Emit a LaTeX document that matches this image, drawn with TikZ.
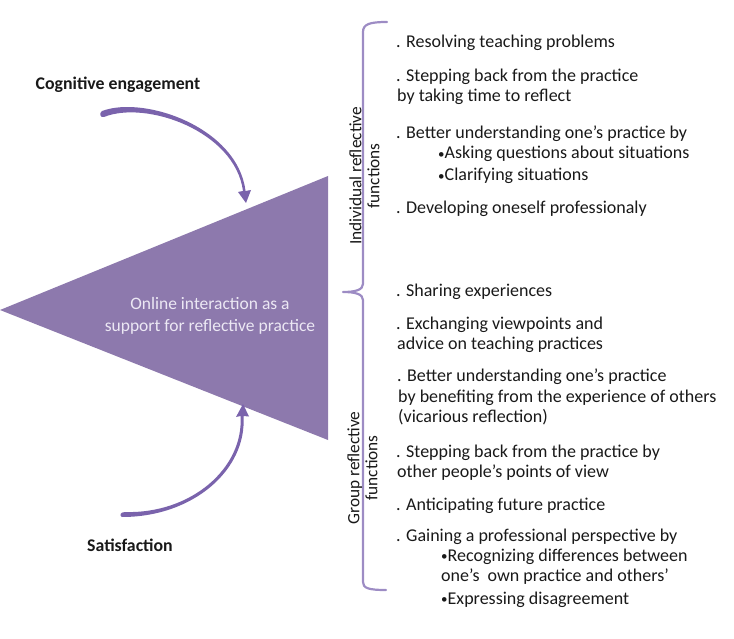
\documentclass[tikz,border=0pt]{standalone}
\usepackage{fontspec}
\setmainfont{Carlito}
\definecolor{tri}{RGB}{141,121,173}
\definecolor{arr}{RGB}{122,99,172}
\definecolor{brc}{RGB}{157,140,196}
\definecolor{textc}{RGB}{25,25,25}
\definecolor{trit}{RGB}{236,232,244}
\newcommand{\bul}{{\fontsize{13}{13}\selectfont\raisebox{0.5pt}{•}}}
\begin{document}
\begin{tikzpicture}[x=1pt,y=-1pt,
  txt/.style={anchor=base west, inner sep=0pt, font=\fontsize{18}{20}\selectfont, text=textc},
  side/.style={rotate=90, align=center, inner sep=0pt, font=\fontsize{17.3}{18}\selectfont, text=textc},
  lbl/.style={inner sep=0pt, font=\bfseries\fontsize{17.8}{20}\selectfont, text=textc},
  bracel/.style={draw=brc, line width=2.2pt, line cap=round, line join=round},
  arrowfill/.style={fill=arr}]
\useasboundingbox (0,0) rectangle (734,639);

% triangle
\fill[tri] (0,310) -- (328,176) -- (328,440) -- cycle;
\node[align=center, inner sep=0pt, font=\fontsize{17.5}{22}\selectfont, text=trit] (core) at (210,316)
  {Online interaction as a\\support for reflective practice};

% side labels
\node[lbl] (cog) at (118,85) {Cognitive engagement};
\node[lbl] (sat) at (130,545) {Satisfaction};

% curved arrows
\fill[arrowfill] (102,111) .. controls (145,95) and (238,128) .. (245.5,191)
  -- (251,190) -- (246,203) -- (238,192) -- (243,191)
  .. controls (235,131) and (146,100) .. (104,117)
  .. controls (100,118) and (99,113) .. (102,111) -- cycle;
\fill[arrowfill] (122,517) .. controls (193,517) and (247,470) .. (243.5,416)
  -- (249,416.5) -- (243,404) -- (236,417) -- (240.5,416)
  .. controls (244,468) and (191,514) .. (125,512)
  .. controls (120,512) and (119,516) .. (122,517) -- cycle;

% brace
\draw[bracel] (387,22) .. controls (370,22) and (363,24) .. (363,32) -- (363,284)
  .. controls (363,290) and (355,292) .. (343,292)
  .. controls (355,292) and (363,294) .. (363,300) -- (363,582)
  .. controls (363,588) and (368,590) .. (386,590);

\node[side] (ind) at (364.5,176) {Individual reflective\\functions};
\node[side] (grp) at (362.5,468) {Group reflective\\functions};

% individual functions
\node[txt] (i1) at (396,48) {. Resolving teaching problems};
\node[txt] (i2) at (396,82) {. Stepping back from the practice};
\node[txt] (i3) at (397,102) {by taking time to reflect};
\node[txt] (i4) at (396,139) {. Better understanding one’s practice by};
\node[txt] (i5) at (438,159) {\bul Asking questions about situations};
\node[txt] (i6) at (438,181) {\bul Clarifying situations};
\node[txt] (i7) at (396,214) {. Developing oneself professionaly};

% group functions
\node[txt] (g1) at (396,297) {. Sharing experiences};
\node[txt] (g2) at (396,329) {. Exchanging viewpoints and};
\node[txt] (g3) at (397,349) {advice on teaching practices};
\node[txt] (g4) at (397,381) {. Better understanding one’s practice};
\node[txt] (g5) at (398,402) {by benefiting from the experience of others};
\node[txt] (g6) at (398,422) {(vicarious reflection)};
\node[txt] (g7) at (396,457) {. Stepping back from the practice by};
\node[txt] (g8) at (397,477) {other people’s points of view};
\node[txt] (g9) at (396,510) {. Anticipating future practice};
\node[txt] (g10) at (396,541) {. Gaining a professional perspective by};
\node[txt] (g11) at (441,561) {\bul Recognizing differences between};
\node[txt] (g12) at (441,581) {one’s\ \ own practice and others’};
\node[txt] (g13) at (441,604) {\bul Expressing disagreement};
\end{tikzpicture}
\end{document}
